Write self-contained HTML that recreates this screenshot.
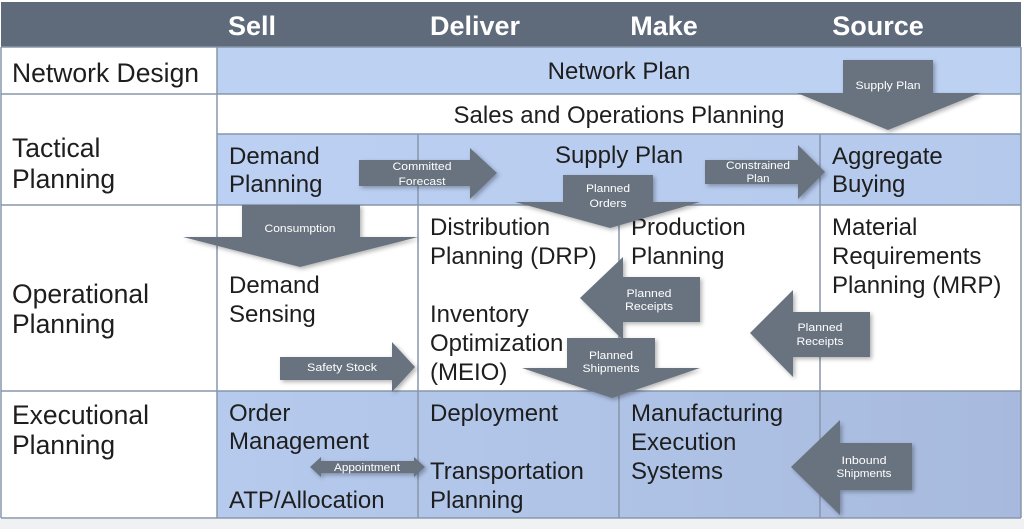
<!DOCTYPE html>
<html>
<head>
<meta charset="utf-8">
<style>
  html,body{margin:0;padding:0;background:#ffffff;}
  svg{display:block;}
  text{font-family:"Liberation Sans",Arial,sans-serif;}
  .hd{font-size:27px;font-weight:bold;fill:#ffffff;}
  .lb{font-size:26.5px;fill:#1e1e1e;}
  .ce{font-size:24px;fill:#1e1e1e;}
  .ar{font-size:11px;fill:#ffffff;}
</style>
</head>
<body>
<svg width="1024" height="529" viewBox="0 0 1024 529" xmlns="http://www.w3.org/2000/svg">
  <defs>
    <linearGradient id="exec" x1="0" y1="0" x2="1" y2="0">
      <stop offset="0" stop-color="#b6caee"/>
      <stop offset="0.5" stop-color="#afc3e7"/>
      <stop offset="1" stop-color="#a7badd"/>
    </linearGradient>
    <linearGradient id="tac" x1="0" y1="0" x2="1" y2="0">
      <stop offset="0" stop-color="#bcd0f3"/>
      <stop offset="1" stop-color="#b5c9ec"/>
    </linearGradient>
    <filter id="sh" x="-20%" y="-20%" width="140%" height="140%">
      <feDropShadow dx="2" dy="2" stdDeviation="2" flood-color="#000" flood-opacity="0.3"/>
    </filter>
  </defs>

  <!-- background -->
  <rect x="0" y="0" width="1024" height="529" fill="#ffffff"/>
  <rect x="0" y="519" width="1024" height="10" fill="#f0f1f3"/>

  <!-- header -->
  <rect x="1" y="2" width="1020" height="45" fill="#5f6b7b"/>
  <text class="hd" x="252" y="35" text-anchor="middle">Sell</text>
  <text class="hd" x="475" y="35" text-anchor="middle">Deliver</text>
  <text class="hd" x="664" y="35" text-anchor="middle">Make</text>
  <text class="hd" x="878" y="35" text-anchor="middle">Source</text>

  <!-- row fills -->
  <rect x="217" y="47" width="804" height="47" fill="#bdd1f3"/>
  <rect x="217" y="134" width="804" height="71" fill="url(#tac)"/>
  <rect x="217" y="391" width="804" height="127" fill="url(#exec)"/>

  <!-- grid lines -->
  <g stroke="#8796ab" stroke-width="1.5" fill="none">
    <line x1="1" y1="47" x2="1021" y2="47"/>
    <line x1="1" y1="94" x2="1021" y2="94"/>
    <line x1="217" y1="134" x2="1021" y2="134"/>
    <line x1="1" y1="205" x2="1021" y2="205"/>
    <line x1="1" y1="391" x2="1021" y2="391"/>
    <line x1="1" y1="518" x2="1021" y2="518"/>
    <line x1="1" y1="47" x2="1" y2="518"/>
    <line x1="217" y1="47" x2="217" y2="518"/>
    <line x1="418" y1="134" x2="418" y2="518"/>
    <line x1="619" y1="205" x2="619" y2="518"/>
    <line x1="820" y1="134" x2="820" y2="518"/>
    <line x1="1021" y1="47" x2="1021" y2="518"/>
  </g>

  <!-- row labels -->
  <text class="lb" x="12" y="82">Network Design</text>
  <text class="lb" x="12" y="157">Tactical</text>
  <text class="lb" x="12" y="188">Planning</text>
  <text class="lb" x="12" y="303">Operational</text>
  <text class="lb" x="12" y="333">Planning</text>
  <text class="lb" x="12" y="424">Executional</text>
  <text class="lb" x="12" y="454">Planning</text>

  <!-- cell texts -->
  <text class="ce" x="619" y="79" text-anchor="middle">Network Plan</text>
  <text class="ce" x="619" y="123" text-anchor="middle">Sales and Operations Planning</text>

  <text class="ce" x="229" y="164">Demand</text>
  <text class="ce" x="229" y="192">Planning</text>
  <text class="ce" x="619" y="163" text-anchor="middle">Supply Plan</text>
  <text class="ce" x="832" y="164">Aggregate</text>
  <text class="ce" x="832" y="192">Buying</text>

  <text class="ce" x="430" y="235">Distribution</text>
  <text class="ce" x="430" y="264">Planning (DRP)</text>
  <text class="ce" x="631" y="235">Production</text>
  <text class="ce" x="631" y="264">Planning</text>
  <text class="ce" x="832" y="235">Material</text>
  <text class="ce" x="832" y="264">Requirements</text>
  <text class="ce" x="832" y="293">Planning (MRP)</text>
  <text class="ce" x="229" y="293">Demand</text>
  <text class="ce" x="229" y="322">Sensing</text>
  <text class="ce" x="430" y="322">Inventory</text>
  <text class="ce" x="430" y="351">Optimization</text>
  <text class="ce" x="430" y="380">(MEIO)</text>

  <text class="ce" x="229" y="421">Order</text>
  <text class="ce" x="229" y="449">Management</text>
  <text class="ce" x="229" y="508">ATP/Allocation</text>
  <text class="ce" x="430" y="421">Deployment</text>
  <text class="ce" x="430" y="479">Transportation</text>
  <text class="ce" x="430" y="508">Planning</text>
  <text class="ce" x="631" y="421">Manufacturing</text>
  <text class="ce" x="631" y="450">Execution</text>
  <text class="ce" x="631" y="479">Systems</text>

  <!-- arrows -->
  <g fill="#68737f" filter="url(#sh)">
    <!-- Committed Forecast -->
    <polygon points="359,160 470,160 470,148 497,173 470,199 470,186 359,186"/>
    <!-- Consumption -->
    <polygon points="242,205 360,205 360,237 418,237 300,267 183,237 242,237"/>
    <!-- Supply Plan (down) -->
    <polygon points="843,60 933,60 933,93 980,93 888,130 797,93 843,93"/>
    <!-- Constrained Plan -->
    <polygon points="705,160 798,160 798,145 825,172 798,199 798,184 705,184"/>
    <!-- Planned Orders -->
    <polygon points="563,175 653,175 653,202 700,202 610,228 515,202 563,202"/>
    <!-- Planned Receipts (middle) -->
    <polygon points="700,277 623,277 623,257 580,298 623,340 623,322 700,322"/>
    <!-- Planned Receipts (right) -->
    <polygon points="870,312 793,312 793,290 750,333 793,377 793,357 870,357"/>
    <!-- Planned Shipments -->
    <polygon points="567,338 655,338 655,368 700,368 612,398 522,368 567,368"/>
    <!-- Safety Stock -->
    <polygon points="280,357 392,357 392,342 415,367 392,392 392,380 280,380"/>
    <!-- Appointment (double) -->
    <polygon points="310,467 321,457 321,461 414,461 414,457 425,467 414,477 414,473 321,473 321,477"/>
    <!-- Inbound Shipments -->
    <polygon points="912,443 840,443 840,420 791,467 840,515 840,490 912,490"/>
  </g>

  <!-- arrow labels -->
  <text class="ar" x="422" y="170" text-anchor="middle" textLength="59" lengthAdjust="spacingAndGlyphs">Committed</text>
  <text class="ar" x="422" y="185" text-anchor="middle" textLength="47" lengthAdjust="spacingAndGlyphs">Forecast</text>
  <text class="ar" x="300" y="232" text-anchor="middle" textLength="71" lengthAdjust="spacingAndGlyphs">Consumption</text>
  <text class="ar" x="888" y="89" text-anchor="middle" textLength="65" lengthAdjust="spacingAndGlyphs">Supply Plan</text>
  <text class="ar" x="758" y="169" text-anchor="middle" textLength="64" lengthAdjust="spacingAndGlyphs">Constrained</text>
  <text class="ar" x="758" y="182" text-anchor="middle" textLength="23" lengthAdjust="spacingAndGlyphs">Plan</text>
  <text class="ar" x="608" y="192" text-anchor="middle" textLength="44" lengthAdjust="spacingAndGlyphs">Planned</text>
  <text class="ar" x="608" y="207" text-anchor="middle" textLength="37" lengthAdjust="spacingAndGlyphs">Orders</text>
  <text class="ar" x="649" y="297" text-anchor="middle" textLength="45" lengthAdjust="spacingAndGlyphs">Planned</text>
  <text class="ar" x="649" y="310" text-anchor="middle" textLength="48" lengthAdjust="spacingAndGlyphs">Receipts</text>
  <text class="ar" x="820" y="331" text-anchor="middle" textLength="45" lengthAdjust="spacingAndGlyphs">Planned</text>
  <text class="ar" x="820" y="345" text-anchor="middle" textLength="47" lengthAdjust="spacingAndGlyphs">Receipts</text>
  <text class="ar" x="611" y="359" text-anchor="middle" textLength="44" lengthAdjust="spacingAndGlyphs">Planned</text>
  <text class="ar" x="611" y="372" text-anchor="middle" textLength="57" lengthAdjust="spacingAndGlyphs">Shipments</text>
  <text class="ar" x="342" y="371" text-anchor="middle" textLength="70" lengthAdjust="spacingAndGlyphs">Safety Stock</text>
  <text class="ar" x="864" y="464" text-anchor="middle" textLength="45" lengthAdjust="spacingAndGlyphs">Inbound</text>
  <text class="ar" x="864" y="477" text-anchor="middle" textLength="55" lengthAdjust="spacingAndGlyphs">Shipments</text>
  <text class="ar" x="367" y="471" text-anchor="middle" font-size="10" textLength="66" lengthAdjust="spacingAndGlyphs">Appointment</text>
</svg>
</body>
</html>
